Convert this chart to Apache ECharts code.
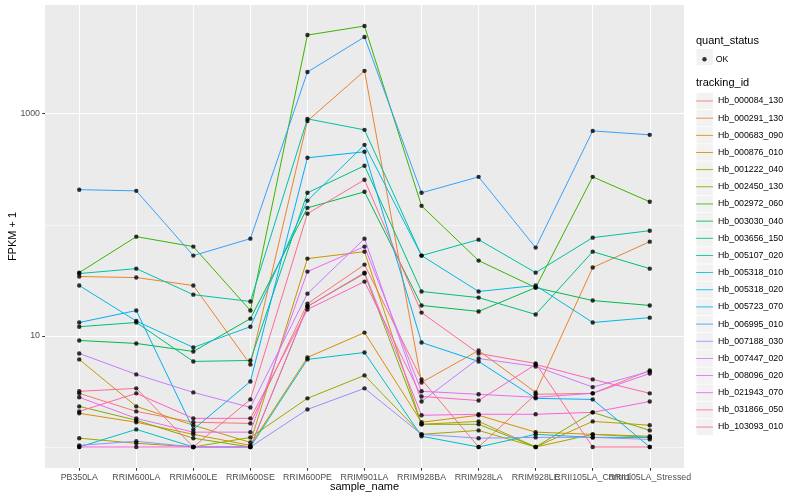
<!DOCTYPE html>
<html><head><meta charset="utf-8">
<script src="https://cdn.jsdelivr.net/npm/echarts@6/dist/echarts.min.js"></script>
<style>html,body{margin:0;padding:0;background:#fff}#c{width:800px;height:500px}</style>
</head><body><div id="c"></div>
<script>
const categories = ['PB350LA','RRIM600LA','RRIM600LE','RRIM600SE','RRIM600PE','RRIM901LA','RRIM928BA','RRIM928LA','RRIM928LE','RRII105LA_Control','RRII105LA_Stressed'];
const trackingIds = ['Hb_000084_130','Hb_000291_130','Hb_000683_090','Hb_000876_010','Hb_001222_040','Hb_002450_130','Hb_002972_060','Hb_003030_040','Hb_003656_150','Hb_005107_020','Hb_005318_010','Hb_005318_020','Hb_005723_070','Hb_006995_010','Hb_007188_030','Hb_007447_020','Hb_008096_020','Hb_021943_070','Hb_031866_050','Hb_103093_010'];
// FPKM + 1 per sample
const v000084_130 = [3.04, 2.09, 1.67, 1.63, 19.5, 43.8, 4.06, 1, 2.98, 3.04, 4.89];
const v000291_130 = [34.2, 33.5, 28.4, 5.53, 860, 2430, 3.81, 7.39, 3.10, 41.2, 70.5];
const v000683_090 = [2.01, 1.67, 1.30, 1.035, 6.40, 10.7, 1.67, 1.93, 1.36, 1.30, 1.25];
const v000876_010 = [6.14, 2.32, 1.57, 1.10, 49.6, 57.3, 1.60, 1.70, 1, 1.70, 1.57];
const v001222_040 = [1.20, 1.08, 1, 1.22, 2.74, 4.41, 1.30, 1.41, 1, 1.30, 1.22];
const v002450_130 = [2.32, 1.74, 1.20, 1, 18.4, 36.4, 1.60, 1.60, 1, 2.05, 1.41];
const v002972_060 = [37.1, 78.2, 63.6, 16.9, 5100, 6150, 148, 47.6, 27.2, 270, 161];
const v003030_040 = [9.09, 8.55, 7.24, 14.3, 142, 198, 18.8, 16.6, 27.2, 20.8, 18.8];
const v003656_150 = [12.1, 13.2, 5.89, 6.01, 194, 340, 25.1, 22.1, 15.6, 57.3, 40.3];
const v005107_020 = [36.4, 40.3, 23.5, 20.4, 898, 715, 52.8, 73.5, 37.1, 76.6, 88.5];
const v005318_010 = [1, 1.44, 1, 1, 6.14, 7.09, 1.25, 1, 1.30, 1.22, 1.22];
const v005318_020 = [28.4, 13.6, 7.87, 12.1, 165, 524, 52.8, 25.1, 28.4, 13.2, 14.6];
const v005723_070 = [13.2, 16.9, 1.44, 3.89, 401, 454, 8.72, 5.89, 2.74, 2.68, 1];
const v006995_010 = [207, 202, 52.8, 75.0, 2370, 4900, 194, 270, 62.3, 700, 645];
const v007188_030 = [1.035, 1.125, 1, 1, 2.18, 3.37, 1.30, 1.20, 1.22, 1.22, 1.17];
const v007447_020 = [6.95, 4.50, 3.10, 2.27, 24.0, 75.0, 2.57, 6.26, 5.31, 3.46, 4.79];
const v008096_020 = [2.80, 1.81, 1.36, 1.36, 37.9, 63.6, 3.17, 2.98, 2.80, 3.04, 4.59];
const v021943_070 = [1, 1, 1, 1, 18.4, 37.1, 1.93, 1.97, 1.97, 2.05, 2.57];
const v031866_050 = [2.09, 3.04, 1.81, 1.81, 17.3, 30.8, 2.85, 2.62, 5.53, 4.06, 3.04];
const v103093_010 = [3.17, 3.37, 1, 2.68, 126, 254, 16.2, 6.95, 5.65, 1, 1];
const yTickLabels = [10, 1000];
const yMinorBreaks = [1, 100];

const seriesValues = [v000084_130, v000291_130, v000683_090, v000876_010, v001222_040, v002450_130, v002972_060, v003030_040, v003656_150, v005107_020, v005318_010, v005318_020, v005723_070, v006995_010, v007188_030, v007447_020, v008096_020, v021943_070, v031866_050, v103093_010];
const palette = ["#F8766D","#EA8331","#D89000","#C09B00","#A3A500","#7CAE00","#39B600","#00BB4E","#00BF7D","#00C1A3","#00BFC4","#00BAE0","#00B0F6","#35A2FF","#9590FF","#C77CFF","#E76BF3","#FA62DB","#FF62BC","#FF6C91"];
const FONT = '"Liberation Sans", Arial, Helvetica, sans-serif';
const catIdx = categories.map((c, i) => i);
const evenIdx = catIdx.filter(i => i % 2 === 0);
const oddIdx = catIdx.filter(i => i % 2 === 1);

const lineSeries = trackingIds.map((id, i) => ({
  name: id, type: 'line', xAxisIndex: 0, yAxisIndex: 0,
  data: seriesValues[i].map((v, j) => [j, v]),
  showSymbol: false, symbol: 'none', silent: true,
  lineStyle: { color: palette[i], width: 1 },
  itemStyle: { color: palette[i] }, z: 2
}));
const pointSeries = {
  name: 'OK', type: 'scatter', xAxisIndex: 0, yAxisIndex: 0, silent: true,
  data: seriesValues.flatMap(arr => arr.map((v, j) => [j, v])),
  symbol: 'circle', symbolSize: 4.4, itemStyle: { color: '#000' }, z: 3
};

const firstKeyCenter = 101, legendPitch = 17.16, legendItemH = 9;
const keyRects = [{ type: 'rect', left: 696.5, top: 48.8, shape: { width: 16.4, height: 16.4 }, style: { fill: '#F2F2F2' }, silent: true, z: -1 }];
trackingIds.forEach((id, i) => keyRects.push({ type: 'rect', left: 696.5, top: firstKeyCenter + i * legendPitch - 8.2, shape: { width: 16.4, height: 16.4 }, style: { fill: '#F2F2F2' }, silent: true, z: -1 }));

const tickStyle = { color: '#333333', width: 1.07 };
const xLabelStyle = { formatter: v => categories[Math.round(v)], fontSize: 8.8, color: '#4D4D4D', margin: 5, fontFamily: FONT, hideOverlap: false, showMinLabel: true, showMaxLabel: true };
const chart = echarts.init(document.getElementById('c'), null, { renderer: 'canvas' });
chart.setOption({
  animation: false,
  backgroundColor: '#fff',
  textStyle: { fontFamily: FONT },
  grid: { left: 45, right: 116, top: 5, bottom: 32, containLabel: false, outerBoundsMode: 'none', show: true, backgroundColor: '#EBEBEB', borderWidth: 0 },
  xAxis: [{
    type: 'value', min: -0.6, max: 10.6, position: 'bottom',
    name: 'sample_name', nameLocation: 'middle', nameGap: 13.5, nameMoveOverlap: false,
    nameTextStyle: { fontSize: 11, color: '#000', fontFamily: FONT },
    axisLine: { show: false, onZero: false },
    axisTick: { show: true, length: 2.75, lineStyle: tickStyle, customValues: evenIdx },
    axisLabel: Object.assign({ customValues: evenIdx }, xLabelStyle),
    splitLine: { show: true, lineStyle: { color: '#FFFFFF', width: 1.07 } }
  }, {
    type: 'value', min: -0.6, max: 10.6, position: 'bottom',
    axisLine: { show: false, onZero: false },
    axisTick: { show: true, length: 2.75, lineStyle: tickStyle, customValues: oddIdx },
    axisLabel: Object.assign({ customValues: oddIdx }, xLabelStyle),
    splitLine: { show: true, lineStyle: { color: '#FFFFFF', width: 1.07 } }
  }],
  yAxis: [{
    type: 'log', logBase: 10, min: 0.647, max: 9510, position: 'left',
    name: 'FPKM + 1', nameLocation: 'middle', nameGap: 26.5, nameRotate: 90, nameMoveOverlap: false,
    nameTextStyle: { fontSize: 11, color: '#000', fontFamily: FONT },
    axisLine: { show: false, onZero: false },
    axisTick: { show: true, length: 2.75, lineStyle: tickStyle, customValues: yTickLabels },
    axisLabel: { customValues: yTickLabels, fontSize: 8.8, color: '#4D4D4D', margin: 5, fontFamily: FONT, formatter: v => String(Math.round(v)) },
    splitLine: { show: true, lineStyle: { color: '#FFFFFF', width: 1.07 } }
  }, {
    type: 'log', logBase: 10, min: 0.647, max: 9510, position: 'left',
    axisLine: { show: false, onZero: false },
    axisTick: { show: false, customValues: yMinorBreaks },
    axisLabel: { show: false, customValues: yMinorBreaks },
    splitLine: { show: true, lineStyle: { color: '#FFFFFF', width: 0.53 } }
  }],
  legend: [{
    data: [{ name: 'OK', icon: 'circle' }],
    left: 702.3, top: 54.7, itemWidth: 4.4, itemHeight: 4.4, padding: 0,
    selectedMode: false,
    textStyle: { fontSize: 8.8, color: '#000', fontFamily: FONT, padding: [0, 0, 0, 4] }
  }, {
    data: trackingIds.map(id => ({ name: id, icon: 'path://M0,0 L20,0 L20,1 L0,1 Z' })),
    orient: 'vertical', left: 696, top: firstKeyCenter - legendItemH / 2, itemWidth: 17, itemHeight: legendItemH, itemGap: legendPitch - legendItemH,
    padding: 0, selectedMode: false,
    textStyle: { fontSize: 8.8, color: '#000', fontFamily: FONT, lineHeight: legendItemH }
  }],
  graphic: keyRects.concat([
    { type: 'text', left: 696, top: 35, style: { text: 'quant_status', fontSize: 11, fill: '#000', fontFamily: FONT }, silent: true },
    { type: 'text', left: 696, top: 77.5, style: { text: 'tracking_id', fontSize: 11, fill: '#000', fontFamily: FONT }, silent: true }
  ]),
  series: lineSeries.concat([pointSeries])
});
</script></body></html>
